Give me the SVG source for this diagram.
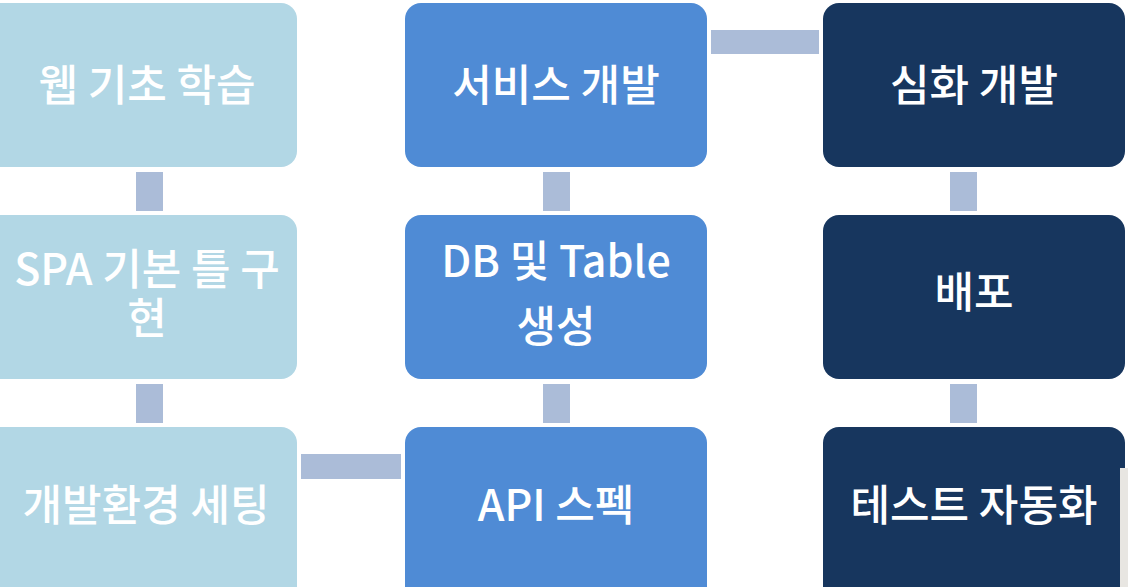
<svg xmlns="http://www.w3.org/2000/svg" width="1128" height="587" viewBox="0 0 1128 587">
<style>
.c1{fill:#b2d7e5}
.c2{fill:#4f8bd5}
.c3{fill:#17365e}
.cn{fill:#abbcd8}
text{font-family:"Noto Sans CJK KR","Noto Sans",sans-serif;font-size:43px;font-weight:500;fill:#ffffff;text-anchor:middle}
</style>
<rect width="1128" height="587" fill="#ffffff"/>
<g id="connectors">
<rect class="cn" x="136" y="172" width="27" height="39"/>
<rect class="cn" x="136" y="384" width="27" height="39"/>
<rect class="cn" x="301" y="454" width="100" height="25"/>
<rect class="cn" x="543" y="384" width="27" height="39"/>
<rect class="cn" x="543" y="172" width="27" height="39"/>
<rect class="cn" x="711" y="30" width="108" height="24"/>
<rect class="cn" x="950" y="172" width="27" height="39"/>
<rect class="cn" x="950" y="384" width="27" height="39"/>
</g>
<g id="n1"><rect class="c1" x="-16" y="3" width="313" height="164" rx="16"/><text x="147" y="101">웹 기초 학습</text></g>
<g id="n2"><rect class="c1" x="-16" y="215" width="313" height="164" rx="16"/><text x="147" y="285">SPA 기본 틀 구</text><text x="147" y="334">현</text></g>
<g id="n3"><rect class="c1" x="-16" y="427" width="313" height="180" rx="16"/><text x="146" y="521">개발환경 세팅</text></g>
<g id="n4"><rect class="c2" x="405" y="427" width="302" height="180" rx="16"/><text x="556" y="521">API 스펙</text></g>
<g id="n5"><rect class="c2" x="405" y="215" width="302" height="164" rx="16"/><text x="556" y="277">DB 및 Table</text><text x="556" y="342">생성</text></g>
<g id="n6"><rect class="c2" x="405" y="3" width="302" height="164" rx="16"/><text x="556" y="101">서비스 개발</text></g>
<g id="n7"><rect class="c3" x="823" y="3" width="302" height="164" rx="16"/><text x="974" y="101">심화 개발</text></g>
<g id="n8"><rect class="c3" x="823" y="215" width="302" height="164" rx="16"/><text x="974" y="308">배포</text></g>
<g id="n9"><rect class="c3" x="823" y="427" width="302" height="180" rx="16"/><text x="974" y="521">테스트 자동화</text></g>
<rect x="1120" y="468" width="8" height="119" fill="#e8e6e2"/>
</svg>
